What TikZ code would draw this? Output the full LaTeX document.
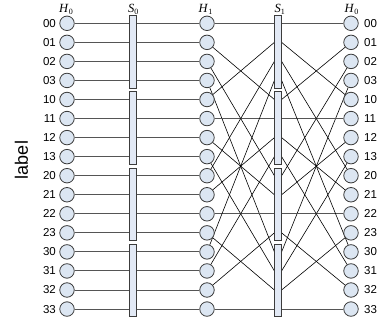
\documentclass[tikz,border=0pt]{standalone}
\usepackage{fontspec}
\setmainfont{Liberation Serif}
\setsansfont{Liberation Sans}
\usetikzlibrary{fit}
\pgfdeclarelayer{background}
\pgfsetlayers{background,main}
\definecolor{cfill}{RGB}{220,230,242}
\definecolor{bfill}{RGB}{226,233,245}
\definecolor{cedge}{RGB}{60,60,60}
\definecolor{hl}{RGB}{85,85,85}
\newcommand{\hdr}[2]{{\fontsize{12.5}{12.5}\selectfont\textit{#1}}\raisebox{-2.2pt}{\fontsize{8}{8}\selectfont #2}}
\tikzset{
  dot/.style={circle, draw=cedge, fill=cfill, line width=0.8pt, minimum size=14.5pt, inner sep=0pt},
  bar/.style={rectangle, draw=cedge, fill=bfill, line width=0.8pt, inner xsep=3.6pt, inner ysep=7.6pt},
  lab/.style={font=\sffamily\fontsize{11.5}{11.5}\selectfont, inner sep=0pt},
  hdrnode/.style={inner sep=0pt, anchor=base west},
  hline/.style={draw=hl, line width=0.9pt},
  xline/.style={draw=black, line width=0.6pt}
}
\begin{document}
\begin{tikzpicture}[x=1pt,y=-1pt]
\useasboundingbox (0,0) rectangle (383,320);
\foreach \r [count=\i from 0] in {00,01,02,03,10,11,12,13,20,21,22,23,30,31,32,33} {
  \pgfmathsetmacro\yy{23.3+19.05*\i}
  \node[dot] (a\i) at (67,\yy) {};
  \node[dot] (b\i) at (207,\yy) {};
  \node[dot] (c\i) at (351,\yy) {};
  \coordinate (t\i) at (133,\yy);
  \coordinate (s\i) at (278,\yy);
  \coordinate (sl\i) at (274.4,\yy);
  \coordinate (sr\i) at (281.6,\yy);
  \node[lab, anchor=east] (la\i) at (56,\yy) {\r};
  \node[lab, anchor=west] (lc\i) at (364,\yy) {\r};
}
\foreach \g in {0,1,2,3} {
  \pgfmathtruncatemacro\ta{4*\g}
  \pgfmathtruncatemacro\tb{4*\g+3}
  \node[bar, fit=(t\ta)(t\tb)] (S0bar\g) {};
  \node[bar, fit=(s\ta)(s\tb)] (S1bar\g) {};
}
\begin{pgfonlayer}{background}
\foreach \i in {0,...,15} {
  \draw[hline] (a\i) -- (b\i);
  \pgfmathtruncatemacro\p{4*mod(\i,4)+div(\i,4)}
  \ifnum\p=\i
    \draw[hline] (b\i) -- (c\i);
  \else
    \draw[xline] (b\i) -- (sl\p);
    \draw[xline] (sr\p) -- (c\i);
  \fi
}
\end{pgfonlayer}
\node[hdrnode] (hH0) at (59,12.5) {\hdr{H}{0}};
\node[hdrnode] (hS0) at (128,12.5) {\hdr{S}{0}};
\node[hdrnode] (hH1) at (198.5,12.5) {\hdr{H}{1}};
\node[hdrnode] (hS1) at (274.5,12.5) {\hdr{S}{1}};
\node[hdrnode] (hH0r) at (344.5,12.5) {\hdr{H}{0}};
\node[rotate=90, font=\sffamily\fontsize{18}{18}\selectfont, inner sep=0pt] (lbl) at (21.5,160) {label};
\end{tikzpicture}
\end{document}
